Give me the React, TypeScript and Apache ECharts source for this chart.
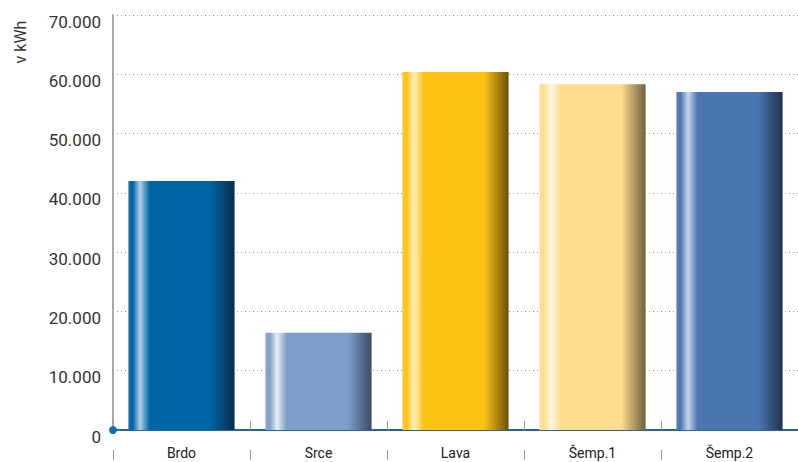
import React, { useEffect, useRef } from "react";
import * as echarts from "echarts";

const categories = ["Brdo", "Srce", "Lava", "Šemp.1", "Šemp.2"];
const values = [42000, 16400, 60400, 58300, 57000];
const yTicks = [0, 10000, 20000, 30000, 40000, 50000, 60000, 70000];

// [left edge, highlight, base, dark edge]
const barColors = [
  ["#1a6fab", "#b3cfe6", "#0065a4", "#0a2b48"],
  ["#8ea9d0", "#e6edf6", "#7f9fcb", "#3c4c66"],
  ["#fcc83a", "#fff0c4", "#fcc215", "#6b500a"],
  ["#fddf9c", "#fff7e6", "#fddc8e", "#70603e"],
  ["#5b80b8", "#c8d6ec", "#4b76b2", "#1f3350"],
];

function fmt(v: number) {
  if (v === 0) return "0";
  const s = String(v);
  return s.slice(0, s.length - 3) + "." + s.slice(s.length - 3);
}

export default function App() {
  const ref = useRef<HTMLDivElement>(null);
  useEffect(() => {
    document.body.style.margin = "0";
    const chart = echarts.init(ref.current!, undefined, { renderer: "svg" });
    const gridLeft = 113;
    const gridBottom = 32;
    chart.setOption({
      animation: false,
      grid: { left: gridLeft, width: 690, top: 15, bottom: gridBottom },
      xAxis: [
        {
          type: "category",
          data: categories,
          axisLine: { show: true, lineStyle: { color: "#1a6aa8", width: 2 } },
          axisTick: {
            show: true,
            inside: true,
            length: 9,
            interval: 0,
            lineStyle: { color: "#999", width: 1 },
          },
          axisLabel: {
            color: "#222",
            fontSize: 14,
            fontFamily: "Roboto",
            margin: 16,
            interval: 0,
          },
        },
        {
          type: "category",
          data: categories,
          position: "bottom",
          offset: 20,
          axisLine: { show: false },
          axisTick: {
            show: true,
            length: 10,
            interval: 0,
            lineStyle: { color: "#999", width: 1 },
          },
          axisLabel: { show: false },
        },
      ],
      yAxis: {
        type: "value",
        min: 0,
        max: yTicks[yTicks.length - 1],
        interval: 10000,
        axisLine: { show: true, lineStyle: { color: "#aaa", width: 2 } },
        axisTick: { show: false },
        splitLine: {
          show: true,
          lineStyle: { color: "#999", type: [1, 3], width: 1 },
        },
        axisLabel: {
          color: "#333",
          fontSize: 17,
          fontFamily: "Roboto",
          margin: 12,
          verticalAlign: "top",
          padding: [-2, 0, 0, 0],
          formatter: (v: number) => fmt(v),
        },
      },
      series: [
        {
          type: "bar",
          barWidth: "77.5%",
          data: values.map((v, i) => ({
            value: v,
            itemStyle: {
              color: new echarts.graphic.LinearGradient(0, 0, 1, 0, [
                { offset: 0, color: barColors[i][0] },
                { offset: 0.04, color: barColors[i][2] },
                { offset: 0.11, color: barColors[i][1] },
                { offset: 0.2, color: barColors[i][2] },
                { offset: 0.77, color: barColors[i][2] },
                { offset: 1, color: barColors[i][3] },
              ]),
            },
          })),
        },
      ],
      graphic: [
        {
          type: "text",
          x: 20,
          y: 42,
          rotation: Math.PI / 2,
          style: {
            text: "v kWh",
            fill: "#333",
            fontSize: 16,
            fontFamily: "Roboto",
            align: "center",
            verticalAlign: "middle",
          },
        },
        {
          type: "circle",
          shape: { cx: gridLeft, cy: 462 - gridBottom, r: 4 },
          style: { fill: "#1a6aa8" },
          z: 100,
        },
      ],
    });
    return () => chart.dispose();
  }, []);
  return <div ref={ref} style={{ width: 798, height: 462 }} />;
}
